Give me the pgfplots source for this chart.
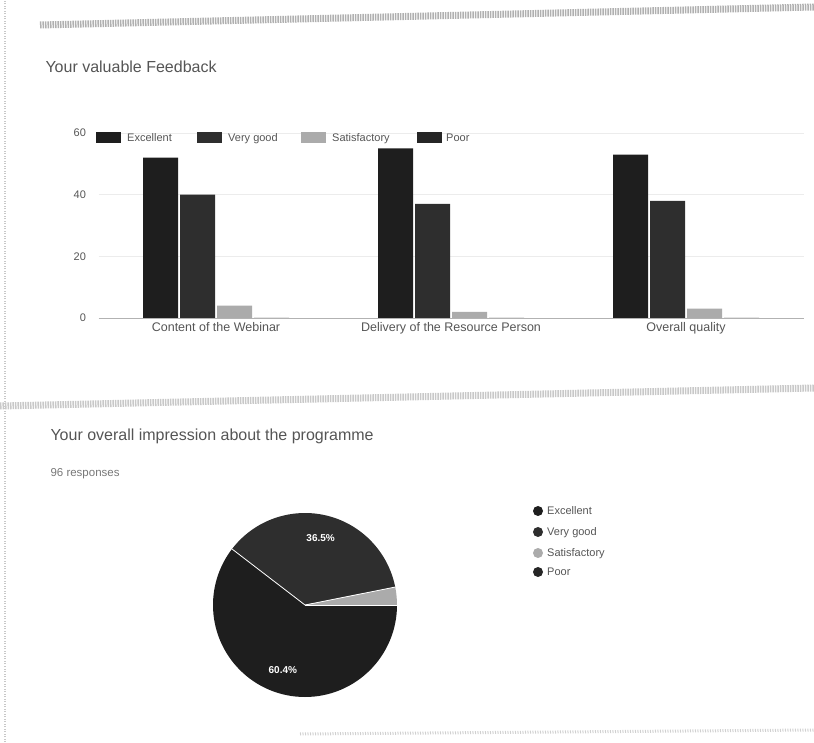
\documentclass[border=0pt]{standalone}
\usepackage{pgfplots}
\pgfplotsset{compat=1.18}
\usepackage{fontspec}
\setmainfont{Liberation Sans}
\definecolor{cE}{HTML}{1E1E1E}
\definecolor{cV}{HTML}{2E2E2E}
\definecolor{cS}{HTML}{ABABAB}
\definecolor{cP}{HTML}{262626}
\definecolor{txt}{HTML}{555555}
\definecolor{band}{HTML}{B0B0B0}

% bar chart data (number of responses)
\pgfplotstableread{
x  E  V  S  P
0  52 40 4  0
1  55 37 2  0
2  53 38 3  0
}\bardata

% pie data
\def\nE{58}\def\nV{35}\def\nS{3}\def\nP{0}

\begin{document}
\begin{tikzpicture}[x=1pt,y=1pt, lg/.style={anchor=base west, text=txt, inner sep=0pt}]
\path[use as bounding box] (0,0) rectangle (814,742);
% scan artefacts: header bands and left edge
\draw[band, line width=7pt, dash pattern=on 1.5pt off 1pt] (40,717) -- (814,735);
\draw[band!70, line width=7pt, dash pattern=on 1.5pt off 1pt] (0,336) -- (814,354);
\draw[band!60, line width=3pt, dash pattern=on 1pt off 1.5pt] (300,8) -- (814,12);
\draw[band!70, line width=2pt, dash pattern=on 1pt off 1.5pt] (5,0) -- (5,742);

% section titles
\node[anchor=west, text=txt, font=\fontsize{16}{18}\selectfont] at (42,675) {Your valuable Feedback};
\node[anchor=west, text=txt, font=\fontsize{16}{18}\selectfont] at (47,306) {Your overall impression about the programme};
\node[anchor=west, text=txt!80, font=\fontsize{11.5}{13}\selectfont] at (47,268) {96 responses};

% ---------------- bar chart ----------------
\begin{axis}[
  at={(98.5pt,424pt)}, anchor=south west,
  scale only axis, width=705pt, height=185pt,
  ybar=2pt, bar width=35pt,
  xmin=-0.5, xmax=2.5, ymin=0, ymax=60,
  xtick={0,1,2},
  xticklabels={Content of the Webinar, Delivery of the Resource Person, Overall quality},
  ytick={0,20,40,60},
  axis lines=left,
  x axis line style={draw=gray!60, -},
  y axis line style={draw=none},
  major tick length=0pt,
  ymajorgrids, grid style={gray!15},
  tick label style={text=txt, font=\fontsize{11}{13}\selectfont},
  yticklabel style={xshift=-9pt},
  xticklabel style={yshift=-1pt, font=\fontsize{12.5}{14}\selectfont},
  /pgf/number format/assume math mode=true,
  clip=false,
]
\addplot[fill=cE, draw=none] table[x=x, y=E] {\bardata};
\addplot[fill=cV, draw=none] table[x=x, y=V] {\bardata};
\addplot[fill=cS, draw=none] table[x=x, y=S] {\bardata};
\addplot[fill=cP, draw=none] table[x=x, y=P] {\bardata};
\end{axis}

% bar legend
\begin{scope}[font=\fontsize{11}{13}\selectfont]
\fill[cE] (96,599) rectangle (121,610);  \node[lg] at (127,600.5) {Excellent};
\fill[cV] (197,599) rectangle (222,610); \node[lg] at (228,600.5) {Very good};
\fill[cS] (301,599) rectangle (326,610); \node[lg] at (332,600.5) {Satisfactory};
\fill[cP] (417,599) rectangle (442,610); \node[lg] at (446,600.5) {Poor};
\end{scope}

% ---------------- pie chart ----------------
\pgfmathsetmacro\tot{\nE+\nV+\nS+\nP}
\pgfmathsetmacro\fE{\nE/\tot}
\pgfmathsetmacro\fV{\nV/\tot}
\pgfmathsetmacro\fS{\nS/\tot}
\pgfmathsetmacro\aE{-360*\fE}
\pgfmathsetmacro\aV{\aE-360*\fV}
\pgfmathsetmacro\aS{\aV-360*\fS}
\pgfmathsetmacro\mE{\aE/2}
\pgfmathsetmacro\mV{(\aE+\aV)/2}
\pgfmathsetmacro\pE{100*\fE}
\pgfmathsetmacro\pV{100*\fV}
\begin{axis}[
  at={(305pt,137pt)}, anchor=center,
  scale only axis, width=184pt, height=184pt,
  xmin=-1, xmax=1, ymin=-1, ymax=1,
  hide axis, clip=false,
]
\fill[cE] (axis cs:0,0) -- ++(0:92pt) arc[start angle=0, end angle=\aE, radius=92pt] -- cycle;
\fill[cV] (axis cs:0,0) -- ++(\aE:92pt) arc[start angle=\aE, end angle=\aV, radius=92pt] -- cycle;
\fill[cS] (axis cs:0,0) -- ++(\aV:92pt) arc[start angle=\aV, end angle=\aS, radius=92pt] -- cycle;
\draw[white, line width=0.8pt] (axis cs:0,0) -- ++(0:92pt);
\draw[white, line width=0.8pt] (axis cs:0,0) -- ++(\aE:92pt);
\draw[white, line width=0.8pt] (axis cs:0,0) -- ++(\aV:92pt);
\node[text=white, font=\bfseries\fontsize{10}{11}\selectfont] at (axis cs:{0.75*cos(\mE)},{0.75*sin(\mE)}) {\pgfmathprintnumber[fixed,precision=1,fixed zerofill,assume math mode=true]{\pE}\%};
\node[text=white, font=\bfseries\fontsize{10}{11}\selectfont] at (axis cs:{0.75*cos(\mV)},{0.75*sin(\mV)}) {\pgfmathprintnumber[fixed,precision=1,fixed zerofill,assume math mode=true]{\pV}\%};
\end{axis}

% pie legend
\begin{scope}[font=\fontsize{11}{13}\selectfont]
\fill[cE] (538,231) circle (5);  \node[lg] at (547,227.5) {Excellent};
\fill[cV] (538,210) circle (5);  \node[lg] at (547,206.5) {Very good};
\fill[cS] (538,189) circle (5);  \node[lg] at (547,185.5) {Satisfactory};
\fill[cP] (538,170) circle (5);  \node[lg] at (547,166.5) {Poor};
\end{scope}
\end{tikzpicture}
\end{document}
